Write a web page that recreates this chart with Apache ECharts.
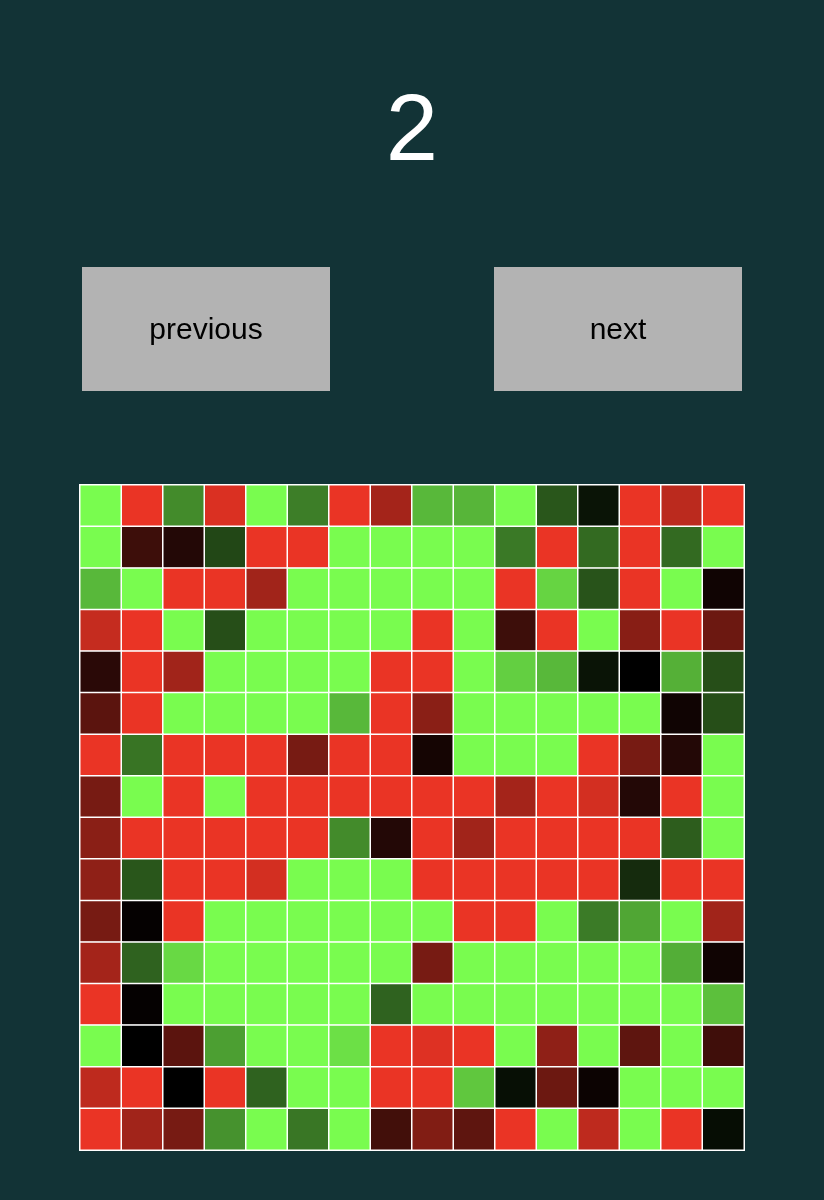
<!DOCTYPE html>
<html>
<head>
<meta charset="utf-8">
<style>
html,body{margin:0;padding:0;background:#123336;}
#chart{width:824px;height:1200px;}
</style>
<script src="https://cdn.jsdelivr.net/npm/echarts@6/dist/echarts.min.js"></script>
</head>
<body>
<div id="chart"></div>
<script>
// Page label and buttons
const pageLabel = '2';
const buttonLabels = ['previous', 'next'];

// Column / row categories (rows listed top to bottom)
const cols = ['0','1','2','3','4','5','6','7','8','9','10','11','12','13','14','15'];
const rows = ['0','1','2','3','4','5','6','7','8','9','10','11','12','13','14','15'];

// Cell values per row: -1 = full red, 0 = black, +1 = full green
const row0  = [1, -1, 0.55, -0.93, 1, 0.5, -1, -0.7, 0.73, 0.72, 1, 0.34, 0.08, -1, -0.8, -1];
const row1  = [1, -0.26, -0.15, 0.28, -1, -1, 1, 1, 1, 1, 0.48, -1, 0.42, -1, 0.42, 1];
const row2  = [0.73, 1, -1, -1, -0.69, 1, 1, 1, 1, 1, -1, 0.84, 0.33, -1, 1, -0.07];
const row3  = [-0.84, -1, 1, 0.31, 1, 1, 1, 1, -1, 1, -0.26, -1, 1, -0.58, -1, -0.46];
const row4  = [-0.18, -1, -0.69, 1, 1, 1, 1, -1, -1, 1, 0.82, 0.73, 0.08, 0, 0.7, 0.31];
const row5  = [-0.39, -1, 1, 1, 1, 1, 0.73, -1, -0.59, 1, 1, 1, 1, 1, -0.07, 0.31];
const row6  = [-1, 0.46, -1, -1, -1, -0.51, -1, -1, -0.09, 1, 1, 1, -1, -0.51, -0.15, 1];
const row7  = [-0.51, 1, -1, 1, -1, -1, -1, -1, -1, -1, -0.7, -1, -0.9, -0.15, -1, 1];
const row8  = [-0.59, -1, -1, -1, -1, -1, 0.55, -0.15, -1, -0.69, -1, -1, -1, -1, 0.37, 1];
const row9  = [-0.61, 0.34, -1, -1, -0.9, 1, 1, 1, -1, -1, -1, -1, -1, 0.17, -1, -1];
const row10 = [-0.51, -0.02, -1, 1, 1, 1, 1, 1, 1, -1, -1, 1, 0.49, 0.66, 1, -0.69];
const row11 = [-0.7, 0.39, 0.86, 1, 1, 1, 1, 1, -0.51, 1, 1, 1, 1, 1, 0.69, -0.07];
const row12 = [-1, -0.02, 1, 1, 1, 1, 1, 0.39, 1, 1, 1, 1, 1, 1, 1, 0.76];
const row13 = [1, 0, -0.39, 0.63, 1, 1, 0.89, -1, -0.95, -1, 1, -0.61, 1, -0.4, 1, -0.27];
const row14 = [-0.81, -1, 0, -1, 0.39, 1, 1, -1, -1, 0.79, 0.06, -0.46, -0.05, 1, 1, 1];
const row15 = [-1, -0.69, -0.51, 0.58, 1, 0.47, 1, -0.28, -0.55, -0.4, -1, 1, -0.81, 1, -1, 0.05];

const grid = [row0,row1,row2,row3,row4,row5,row6,row7,row8,row9,row10,row11,row12,row13,row14,row15];
const data = [];
grid.forEach((r, ri) => r.forEach((v, ci) => data.push([ci, ri, v])));

const chart = echarts.init(document.getElementById('chart'), null, {renderer: 'canvas'});
const btnW = 248, btnH = 124, btnY = 267;
function button(x, label) {
  return {
    type: 'group', left: x, top: btnY,
    children: [
      {type: 'rect', shape: {x: 0, y: 0, width: btnW, height: btnH}, style: {fill: '#b3b3b3'}},
      {type: 'text', x: btnW / 2, y: btnH / 2 + 2, style: {text: label, fill: '#000', font: '30px "Liberation Sans", Arial, sans-serif', align: 'center', verticalAlign: 'middle'}}
    ]
  };
}
chart.setOption({
  backgroundColor: '#123336',
  animation: false,
  grid: {left: 80, top: 485, width: 664, height: 665, show: true, borderColor: '#ffffff', borderWidth: 2, backgroundColor: '#ffffff'},
  xAxis: {type: 'category', data: cols, show: false},
  yAxis: {type: 'category', data: rows, inverse: true, show: false},
  visualMap: {show: false, min: -1, max: 1, dimension: 2, inRange: {color: ['#ea3425', '#000000', '#79fc4f']}},
  graphic: [
    {type: 'text', x: 412, y: 134, style: {text: pageLabel, fill: '#ffffff', font: '94px "Liberation Sans", Arial, sans-serif', align: 'center', verticalAlign: 'middle'}},
    button(82, buttonLabels[0]),
    button(494, buttonLabels[1])
  ],
  series: [{
    type: 'heatmap',
    data: data,
    itemStyle: {borderColor: '#ffffff', borderWidth: 1.5},
    emphasis: {disabled: true}
  }]
});
</script>
</body>
</html>
